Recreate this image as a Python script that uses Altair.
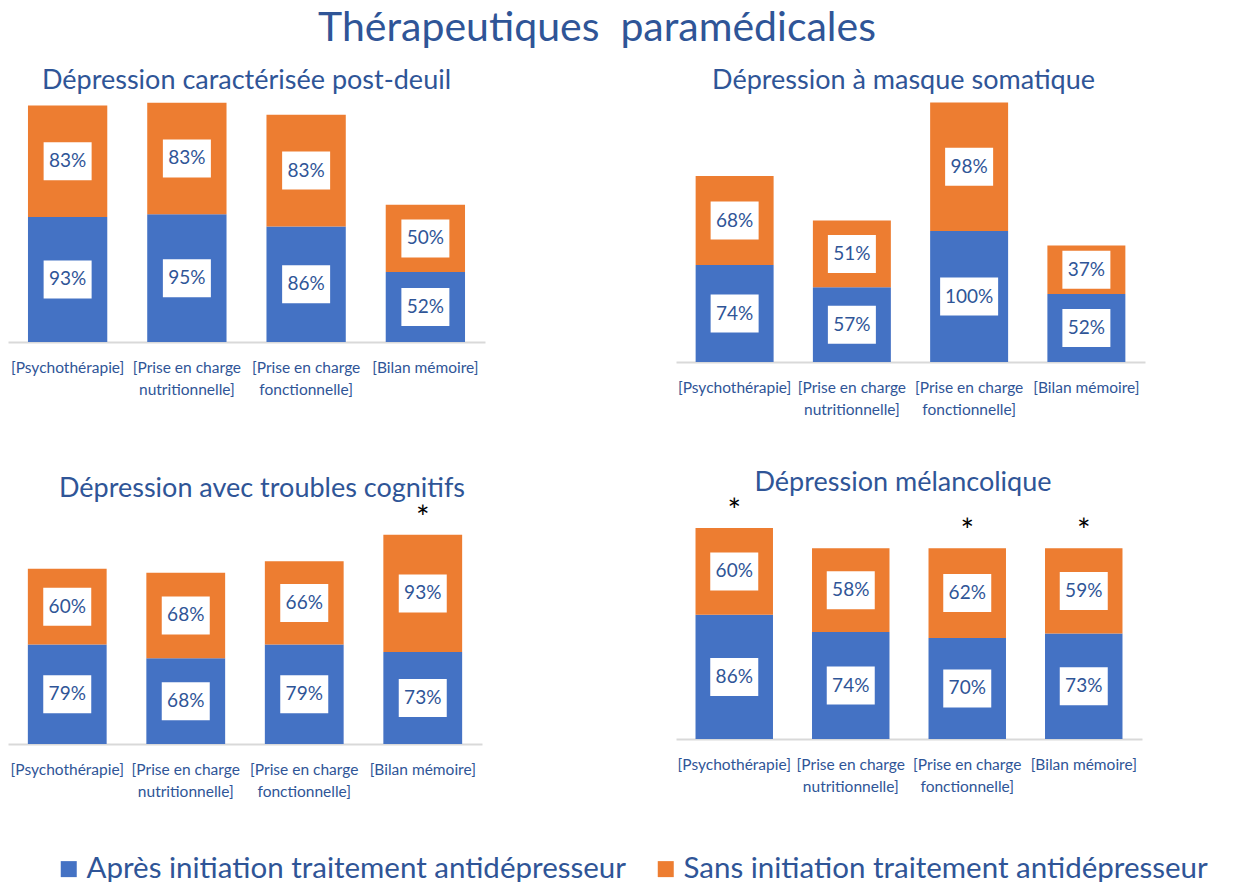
import altair as alt
import pandas as pd

categories = ["[Psychothérapie]", "[Prise en charge nutritionnelle]",
              "[Prise en charge fonctionnelle]", "[Bilan mémoire]"]
series = ["Après initiation traitement antidépresseur",
          "Sans initiation traitement antidépresseur"]
colors = ["#4472C4", "#ED7D31"]

main_title = "Thérapeutiques\u00a0 paramédicales"
panel_titles = ["Dépression caractérisée post-deuil",
                "Dépression à masque somatique",
                "Dépression avec troubles cognitifs",
                "Dépression mélancolique"]

apres_postdeuil = [93, 95, 86, 52]
sans_postdeuil = [83, 83, 83, 50]
apres_somatique = [74, 57, 100, 52]
sans_somatique = [68, 51, 98, 37]
apres_cognitifs = [79, 68, 79, 73]
sans_cognitifs = [60, 68, 66, 93]
apres_melanco = [86, 74, 70, 73]
sans_melanco = [60, 58, 62, 59]
star_postdeuil = [False, False, False, False]
star_somatique = [False, False, False, False]
star_cognitifs = [False, False, False, True]
star_melanco = [True, False, True, True]

FONT = "Lato"
TXT = "#2F5597"


def box_path(label):
    half = 2.9 if len(label) > 3 else 2.4
    return f"M{-half},-1.9L{half},-1.9L{half},1.9L{-half},1.9Z"


def panel(title, apres, sans, stars, width, height, ymax, tdx=0, tdy=0):
    rows = []
    for i, c in enumerate(categories):
        a, s = apres[i], sans[i]
        rows.append({"cat": c, "serie": series[0], "val": a, "ord": 0,
                     "mid": a / 2, "label": f"{a}%"})
        rows.append({"cat": c, "serie": series[1], "val": s, "ord": 1,
                     "mid": a + s / 2, "label": f"{s}%"})
    df = pd.DataFrame(rows)
    df["box"] = df["label"].map(box_path)
    sdf = pd.DataFrame({"cat": categories,
                        "total": [a + s for a, s in zip(apres, sans)],
                        "star": stars})
    sdf = sdf[sdf["star"]]

    xenc = alt.X("cat:N", sort=categories, title=None,
                 scale=alt.Scale(paddingInner=0.335, paddingOuter=0.1675),
                 axis=alt.Axis(domainColor="#D9D9D9", domainWidth=2, ticks=False,
                               labelAngle=0, labelFont=FONT, labelFontSize=15.5,
                               labelColor=TXT, labelPadding=18, labelLineHeight=22,
                               labelLimit=0,
                               labelExpr="indexof(datum.label, 'charge ') > 0 ? ['[Prise en charge', slice(datum.label, 17)] : datum.label"))
    yscale = alt.Scale(domain=[0, ymax], nice=False, zero=True)

    bars = alt.Chart(df).mark_bar().encode(
        x=xenc,
        y=alt.Y("val:Q", stack="zero", scale=yscale, axis=None, title=None),
        color=alt.Color("serie:N", sort=series,
                        scale=alt.Scale(domain=series, range=colors),
                        legend=alt.Legend(orient="none", direction="horizontal",
                                          legendX=46, legendY=754, title=None,
                                          symbolType="square", symbolSize=256,
                                          symbolStrokeWidth=0, labelOffset=3,
                                          labelFont=FONT, labelFontSize=29.5,
                                          labelColor=TXT, labelLimit=0,
                                          columnPadding=24)),
        order=alt.Order("ord:Q"),
    )
    boxes = alt.Chart(df).mark_point(filled=True, fill="white", opacity=1,
                                     strokeWidth=0, size=400).encode(
        x=alt.X("cat:N", sort=categories),
        y=alt.Y("mid:Q", scale=yscale),
        shape=alt.Shape("box:N", scale=None),
    )
    texts = alt.Chart(df).mark_text(font=FONT, fontSize=19, color=TXT).encode(
        x=alt.X("cat:N", sort=categories),
        y=alt.Y("mid:Q", scale=yscale),
        text="label:N",
    )
    layers = [bars, boxes, texts]
    if len(sdf):
        star = alt.Chart(sdf).mark_text(text="*", font=FONT, fontSize=32,
                                        color="black", baseline="middle",
                                        dy=-16).encode(
            x=alt.X("cat:N", sort=categories),
            y=alt.Y("total:Q", scale=yscale),
        )
        layers.append(star)
    return alt.layer(*layers).properties(
        width=width, height=height,
        title=alt.TitleParams(title, font=FONT, fontSize=27, fontWeight="normal",
                              color=TXT, anchor="middle", offset=5, dx=tdx, dy=tdy),
    )


p1 = panel(panel_titles[0], apres_postdeuil, sans_postdeuil, star_postdeuil, 477, 242, 180)
p2 = panel(panel_titles[1], apres_somatique, sans_somatique, star_somatique, 469, 262, 200, tdx=-7)
p3 = panel(panel_titles[2], apres_cognitifs, sans_cognitifs, star_cognitifs, 474, 252, 200, tdx=17, tdy=16)
p4 = panel(panel_titles[3], apres_melanco, sans_melanco, star_melanco, 466, 247, 171, tdx=-6, tdy=10)

chart = alt.concat(p1, p2, p3, p4, columns=2, align="none", bounds="flush",
                   spacing={"row": 130, "column": 191}).properties(
    title=alt.TitleParams(main_title, font=FONT, fontSize=41, fontWeight="normal",
                          color=TXT, anchor="middle", offset=17, dx=-11),
    padding={"left": 0, "top": 0, "right": 5, "bottom": 5},
).configure_view(stroke=None)

chart.save("out.html", embed_options={"renderer": "svg", "actions": False})
